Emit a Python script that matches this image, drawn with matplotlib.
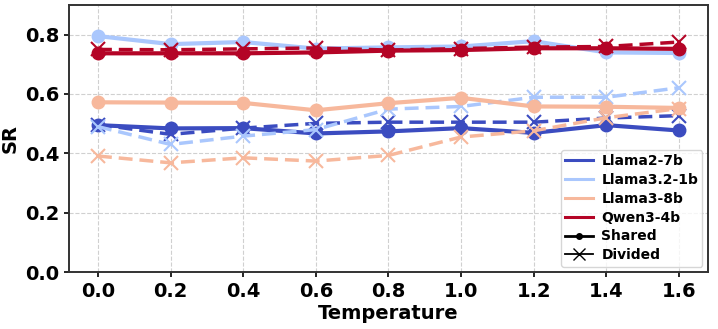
import matplotlib.pyplot as plt
from matplotlib import lines

temps = [0.0, 0.2, 0.4, 0.6, 0.8, 1.0, 1.2, 1.4, 1.6]
models = ['Llama2-7b', 'Llama3.2-1b', 'Llama3-8b', 'Qwen3-4b']
colours = ['#3b4cc0', '#aac7fd', '#f7b89c', '#b40426']

shared = {
    'Llama2-7b':   [0.495, 0.484, 0.485, 0.467, 0.474, 0.485, 0.469, 0.495, 0.477],
    'Llama3.2-1b': [0.795, 0.768, 0.775, 0.753, 0.757, 0.760, 0.778, 0.740, 0.738],
    'Llama3-8b':   [0.572, 0.571, 0.570, 0.545, 0.569, 0.587, 0.558, 0.557, 0.553],
    'Qwen3-4b':    [0.737, 0.737, 0.737, 0.740, 0.746, 0.748, 0.754, 0.754, 0.752],
}
divided = {
    'Llama2-7b':   [0.497, 0.464, 0.485, 0.501, 0.505, 0.505, 0.505, 0.519, 0.527],
    'Llama3.2-1b': [0.490, 0.430, 0.458, 0.480, 0.549, 0.558, 0.589, 0.589, 0.621],
    'Llama3-8b':   [0.391, 0.368, 0.385, 0.374, 0.393, 0.455, 0.476, 0.520, 0.551],
    'Qwen3-4b':    [0.750, 0.749, 0.752, 0.755, 0.748, 0.753, 0.758, 0.760, 0.775],
}

plt.rcParams['font.family'] = 'DejaVu Sans'
plt.rcParams['font.weight'] = 'bold'

fig = plt.figure(figsize=(7.18, 3.29), dpi=100)
ax = fig.add_axes([0.096, 0.173, 0.89, 0.812])

for name, col in zip(models, colours):
    ax.plot(temps, shared[name], color=col, lw=3, marker='o', markersize=9, zorder=3)
    ax.plot(temps, divided[name], color=col, lw=2.5, ls='--', dashes=(4, 2),
            marker='x', markersize=10, markeredgewidth=1.5, zorder=3)

ax.set_ylim(0, 0.9)
ax.set_xlim(-0.08, 1.68)
ax.set_xticks(temps)
ax.set_xticklabels(['{:.1f}'.format(t) for t in temps])
ax.set_yticks([0.0, 0.2, 0.4, 0.6, 0.8])
ax.tick_params(labelsize=14, width=1.2)
for lbl in ax.get_xticklabels() + ax.get_yticklabels():
    lbl.set_fontweight('bold')
ax.set_xlabel('Temperature', fontsize=14, fontweight='bold', labelpad=2)
ax.set_ylabel('SR', fontsize=14, fontweight='bold')
ax.grid(True, ls='--', color='#d0d0d0', lw=0.8)
for sp in ax.spines.values():
    sp.set_linewidth(1.4)
    sp.set_color('#333333')

handles = [lines.Line2D([], [], color=c, lw=2.2, label=m) for m, c in zip(models, colours)]
handles += [lines.Line2D([], [], color='k', lw=2, marker='o', markersize=4, label='Shared'),
            lines.Line2D([], [], color='k', lw=1.3, marker='x', markersize=9, label='Divided')]
ax.legend(handles=handles, loc='lower right', prop={'weight': 'bold', 'size': 10},
          handlelength=2.0, handletextpad=0.6, borderpad=0.3, borderaxespad=0.4,
          labelspacing=0.35)

fig.savefig('out.png', dpi=100)
